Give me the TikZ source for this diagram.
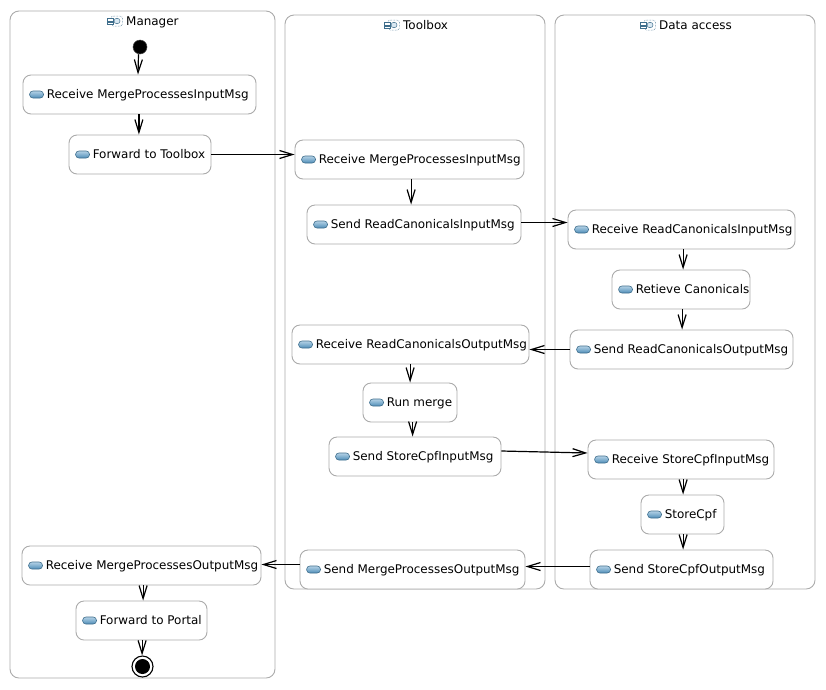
\documentclass[tikz,border=0pt]{standalone}
\usepackage{fontspec}
\setmainfont{DejaVu Sans}
\usetikzlibrary{arrows.meta,calc}
\definecolor{bordergray}{HTML}{ABABAB}
\definecolor{iconline}{HTML}{3F6E8C}
\definecolor{icontop}{HTML}{B4D2E6}
\definecolor{iconbot}{HTML}{4F8DB8}
\tikzset{
  x=1pt,y=-1pt,
  lane/.style={draw=bordergray,line width=0.9pt,rounded corners=9pt,fill=white},
  act/.style={draw=bordergray,line width=0.9pt,rounded corners=8pt,fill=white,inner sep=0pt},
  lbl/.style={inner sep=0pt,anchor=base west,font=\fontsize{11.95}{14}\selectfont,text=black},
  flow/.style={black,line width=1.2pt,-{Straight Barb[length=13pt,width=8pt,line width=1.2pt]}},
}
% box: name, x1, y1, x2, y2, text
\newcommand{\actbox}[6]{%
  \node[act,minimum width=#4pt-#2pt,minimum height=#5pt-#3pt] (#1) at ({(#2+#4)/2},{(#3+#5)/2}) {};
  \shade[draw=iconline,line width=0.6pt,rounded corners=3.4pt,top color=icontop,bottom color=iconbot]
    ($(#1.west)+(7,-3.5)$) rectangle ($(#1.west)+(21,3.5)$);
  \node[lbl] (#1t) at ($(#1.west)+(24,4.4)$) {#6};
}
% lane: name, x1, y1, x2, y2, title, icon left x
\newcommand{\lanebox}[7]{%
  \draw[lane] (#2,#3) rectangle (#4,#5);
  \coordinate (#1i) at (#7,{#3+10});
  \draw[draw=iconline,line width=0.5pt,densely dotted,rounded corners=2.5pt] ($(#1i)+(4,-5)$) rectangle ($(#1i)+(15.5,5)$);
  \draw[draw=iconline,line width=0.5pt,fill=white] ($(#1i)+(0.5,-2.5)$) rectangle ($(#1i)+(6,0)$);
  \draw[draw=iconline,line width=0.5pt,fill=white] ($(#1i)+(0.5,1)$) rectangle ($(#1i)+(6,3.5)$);
  \draw[draw=iconline,line width=0.5pt,fill=icontop!50] ($(#1i)+(10,0)$) ellipse (3 and 2.8);
  \node[lbl] (#1) at ($(#1i)+(19,4.4)$) {#6};
}
\begin{document}
\begin{tikzpicture}
\useasboundingbox (0,0) rectangle (826,689);
\fill[white] (0,0) rectangle (826,689);
\lanebox{mgr}{10}{11}{275}{678}{Manager}{107}
\lanebox{tbx}{285}{15}{545}{589}{Toolbox}{384}
\lanebox{dat}{555}{15}{815}{589}{Data access}{640}

\node[circle,fill=black,draw=black!70,line width=0.5pt,minimum size=14pt,inner sep=0pt] (start) at (140,47) {};
\node[circle,draw=black,fill=white,line width=1.1pt,minimum size=21pt,inner sep=0pt] (end) at (142.5,666.5) {};
\node[circle,fill=black,minimum size=15pt,inner sep=0pt] (endin) at (end.center) {};

\actbox{aa}{23}{75}{256}{114}{Receive MergeProcessesInputMsg}
\actbox{ab}{69}{135}{211}{174}{Forward to Toolbox}
\actbox{ac}{22}{546}{261}{585}{Receive MergeProcessesOutputMsg}
\actbox{ad}{76}{601}{207}{640}{Forward to Portal}
\actbox{ta}{295}{140}{524}{179}{Receive MergeProcessesInputMsg}
\actbox{tb}{307}{205}{521}{244}{Send ReadCanonicalsInputMsg}
\actbox{tc}{292}{325}{529}{364}{Receive ReadCanonicalsOutputMsg}
\actbox{td}{363}{383}{457}{422}{Run merge}
\actbox{te}{329}{437}{501}{476}{Send StoreCpfInputMsg}
\actbox{tf}{300}{550}{525}{589}{Send MergeProcessesOutputMsg}
\actbox{da}{568}{210}{795}{249}{Receive ReadCanonicalsInputMsg}
\actbox{db}{612}{270}{750}{309}{Retieve Canonicals}
\actbox{dc}{570}{330}{793}{369}{Send ReadCanonicalsOutputMsg}
\actbox{dd}{588}{440}{774}{479}{Receive StoreCpfInputMsg}
\actbox{de}{641}{495}{724}{534}{StoreCpf}
\actbox{df}{590}{550}{773}{589}{Send StoreCpfOutputMsg}

\draw[flow] ([xshift=-1.5]start.south) -- ([xshift=-1.5]aa.north);
\draw[flow] ([xshift=-0.6]aa.south) -- ([xshift=-1.1]ab.north);
\draw[flow] (ab.east) -- ([yshift=5]ta.west);
\draw[flow] ([xshift=1.6]ta.south) -- ([xshift=-2.9]tb.north);
\draw[flow] ([yshift=2]tb.east) -- ([yshift=7]da.west);
\draw[flow] ([xshift=1.6]da.south) -- ([xshift=2.1]db.north);
\draw[flow] ([xshift=1.1]db.south) -- ([xshift=0.6]dc.north);
\draw[flow] (dc.west) -- ([yshift=-5]tc.east);
\draw[flow] ([xshift=-0.4]tc.south) -- ([xshift=0.1]td.north);
\draw[flow] ([xshift=2.6]td.south) -- ([xshift=-2.4]te.north);
\draw[flow] ([yshift=5.5]te.east) -- ([yshift=6.5]dd.west);
\draw[flow] ([xshift=2.1]dd.south) -- ([xshift=0.6]de.north);
\draw[flow] ([xshift=0.6]de.south) -- ([xshift=1.6]df.north);
\draw[flow] ([yshift=3]df.west) -- ([yshift=3]tf.east);
\draw[flow] ([yshift=5]tf.west) -- ([yshift=1]ac.east);
\draw[flow] ([xshift=1.6]ac.south) -- ([xshift=1.6]ad.north);
\draw[flow] ([xshift=0.6]ad.south) -- ([xshift=-0.4]end.north);
\end{tikzpicture}
\end{document}
